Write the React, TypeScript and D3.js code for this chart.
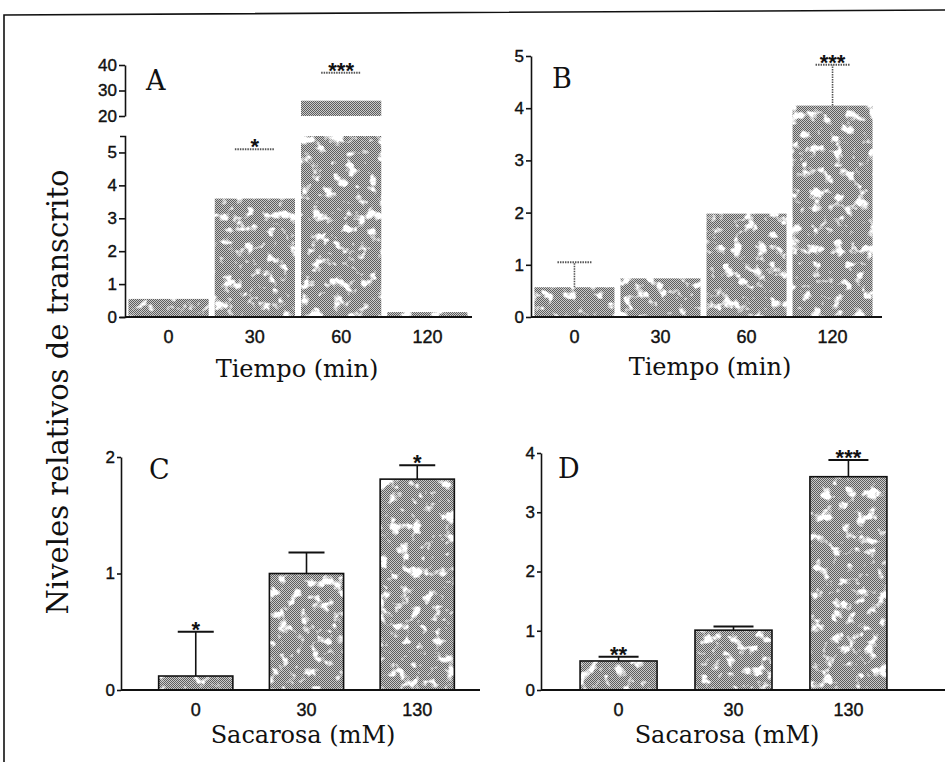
import { useEffect, useRef } from "react";
import * as d3 from "d3";

// categories
const tiempo = ["0", "30", "60", "120"];
const sacarosa = ["0", "30", "130"];

// panel A (broken axis: 0-5.5 and 20-40)
const valuesA = [0.55, 3.6, 26, 0.15];
const errA = [null, 5.1, 37, null];
const sigA = ["", "*", "***", ""];
const ticksA = [0, 1, 2, 3, 4, 5];
const ticksAUpper = [20, 30, 40];

// panel B
const valuesB = [0.57, 0.74, 1.98, 4.05];
const errB = [1.05, null, null, 4.83];
const sigB = ["", "", "", "***"];
const ticksB = [0, 1, 2, 3, 4, 5];

// panel C
const valuesC = [0.12, 1.0, 1.81];
const errC = [0.5, 1.18, 1.93];
const sigC = ["*", "", "*"];
const ticksC = [0, 1, 2];

// panel D
const valuesD = [0.49, 1.01, 3.6];
const errD = [0.56, 1.07, 3.88];
const sigD = ["**", "", "***"];
const ticksD = [0, 1, 2, 3, 4];

const SERIF = "'DejaVu Serif', serif";
const SANS = "'Liberation Sans', Arial, sans-serif";

const drawPanel = (svg, o) => {
  const g = svg.append("g");
  const x = d3
    .scaleBand()
    .domain(o.cats)
    .range([o.x0, o.x1])
    .paddingInner(o.padIn)
    .paddingOuter(o.padOut);

  const y = d3.scaleLinear().domain([0, o.max]).range([o.y0, o.yTop]);
  const yUp = o.upper
    ? d3.scaleLinear().domain(o.upper.domain).range(o.upper.range)
    : null;
  const yv = (v) => (yUp && v >= o.upper.domain[0] ? yUp(v) : y(Math.min(v, o.max)));

  const data = o.cats.map((c, i) => ({ c, v: o.values[i], e: o.errs[i], s: o.sigs[i] }));

  // bars (lower part)
  g.selectAll("rect.bar")
    .data(data)
    .join("rect")
    .attr("class", "bar")
    .attr("x", (d) => x(d.c))
    .attr("width", x.bandwidth())
    .attr("y", (d) => y(Math.min(d.v, o.max)))
    .attr("height", (d) => o.y0 - y(Math.min(d.v, o.max)))
    .attr("fill", "url(#halftone)")
    .attr("filter", "url(#mottle)");

  // bars (upper part of broken axis)
  if (yUp) {
    g.selectAll("rect.barUp")
      .data(data.filter((d) => d.v > o.upper.domain[0]))
      .join("rect")
      .attr("class", "barUp")
      .attr("x", (d) => x(d.c))
      .attr("width", x.bandwidth())
      .attr("y", (d) => yUp(d.v))
      .attr("height", (d) => yUp(o.upper.domain[0]) - yUp(d.v))
      .attr("fill", "url(#halftone)");
  }

  if (o.outline) {
    g.selectAll("rect.outline")
      .data(data)
      .join("rect")
      .attr("class", "outline")
      .attr("x", (d) => x(d.c))
      .attr("width", x.bandwidth())
      .attr("y", (d) => y(d.v))
      .attr("height", (d) => o.y0 - y(d.v))
      .attr("fill", "none")
      .attr("stroke", "#111")
      .attr("stroke-width", 1.6);
  }

  // error bars
  const errs = data.filter((d) => d.e != null);
  const errColor = o.errStyle === "solid" ? "#111" : "#555";
  const dash = o.errStyle === "solid" ? null : "1.5,1";
  if (o.errStyle !== "capOnly") {
    g.selectAll("line.ev")
      .data(errs)
      .join("line")
      .attr("class", "ev")
      .attr("x1", (d) => x(d.c) + x.bandwidth() / 2)
      .attr("x2", (d) => x(d.c) + x.bandwidth() / 2)
      .attr("y1", (d) => yv(d.v))
      .attr("y2", (d) => yv(d.e))
      .attr("stroke", errColor)
      .attr("stroke-width", 1.6)
      .attr("stroke-dasharray", dash);
  }
  g.selectAll("line.ec")
    .data(errs)
    .join("line")
    .attr("class", "ec")
    .attr("x1", (d) => x(d.c) + x.bandwidth() / 2 - o.capW / 2)
    .attr("x2", (d) => x(d.c) + x.bandwidth() / 2 + o.capW / 2)
    .attr("y1", (d) => yv(d.e))
    .attr("y2", (d) => yv(d.e))
    .attr("stroke", errColor)
    .attr("stroke-width", 2)
    .attr("stroke-dasharray", dash);

  // significance stars
  g.selectAll("text.sig")
    .data(data.filter((d) => d.s))
    .join("text")
    .attr("class", "sig")
    .attr("x", (d) => x(d.c) + x.bandwidth() / 2)
    .attr("y", (d) => yv(d.e != null ? d.e : d.v) + 5)
    .attr("text-anchor", "middle")
    .attr("font-family", SANS)
    .attr("font-weight", "bold")
    .attr("font-size", 22)
    .attr("fill", "#111")
    .text((d) => d.s);

  // y axis
  const styleAxis = (ax) => {
    ax.selectAll("path,line").attr("stroke", "#111").attr("stroke-width", 1.6);
    ax.selectAll("text")
      .attr("font-family", SANS)
      .attr("font-size", 17)
      .attr("fill", "#111")
      .attr("stroke", "#111")
      .attr("stroke-width", 0.4);
  };
  const yAxis = g
    .append("g")
    .attr("transform", `translate(${o.x0},0)`)
    .call(
      d3
        .axisLeft(y)
        .tickValues(o.ticks)
        .tickFormat(d3.format("d"))
        .tickSize(o.tickLen)
        .tickSizeOuter(o.upper ? 5 : 0)
        .tickPadding(2)
    );
  styleAxis(yAxis);
  if (yUp) {
    const yAxisUp = g
      .append("g")
      .attr("transform", `translate(${o.x0},0)`)
      .call(
        d3
          .axisLeft(yUp)
          .tickValues(o.upper.ticks)
          .tickFormat(d3.format("d"))
          .tickSize(o.tickLen)
          .tickSizeOuter(0)
          .tickPadding(2)
      );
    styleAxis(yAxisUp);
  }

  // x axis baseline
  g.append("line")
    .attr("x1", o.x0)
    .attr("x2", o.axisEnd)
    .attr("y1", o.y0)
    .attr("y2", o.y0)
    .attr("stroke", "#111")
    .attr("stroke-width", 2);

  g.selectAll("text.xt")
    .data(o.cats)
    .join("text")
    .attr("class", "xt")
    .attr("x", (d) => x(d) + x.bandwidth() / 2)
    .attr("y", o.y0 + 26)
    .attr("text-anchor", "middle")
    .attr("font-family", SANS)
    .attr("font-size", 18)
    .attr("fill", "#111")
    .attr("stroke", "#111")
    .attr("stroke-width", 0.4)
    .text((d) => d);

  g.append("text")
    .attr("x", o.titleX)
    .attr("y", o.y0 + o.titleDy)
    .attr("text-anchor", "middle")
    .attr("font-family", SERIF)
    .attr("font-size", 24)
    .attr("fill", "#111")
    .text(o.title);

  g.append("text")
    .attr("x", o.letterX)
    .attr("y", o.letterY)
    .attr("font-family", SERIF)
    .attr("font-size", 27)
    .attr("fill", "#111")
    .text(o.letter);
};

const App = () => {
  const ref = useRef(null);

  useEffect(() => {
    const svg = d3.select(ref.current).select("g.charts");
    svg.selectAll("*").remove();

    drawPanel(svg, {
      cats: tiempo, values: valuesA, errs: errA, sigs: sigA, ticks: ticksA,
      x0: 125, x1: 471, padIn: 0.07, padOut: 0.04, axisEnd: 472,
      y0: 317, yTop: 136, max: 5.5,
      upper: { domain: [20, 40], range: [116, 65], ticks: ticksAUpper },
      tickLen: 6, capW: 40, errStyle: "capOnly", outline: false,
      title: "Tiempo (min)", titleX: 297, titleDy: 60,
      letter: "A", letterX: 146, letterY: 90,
    });

    drawPanel(svg, {
      cats: tiempo, values: valuesB, errs: errB, sigs: sigB, ticks: ticksB,
      x0: 531, x1: 876, padIn: 0.07, padOut: 0.04, axisEnd: 882,
      y0: 317, yTop: 56, max: 5,
      tickLen: 5, capW: 34, errStyle: "dotted", outline: false,
      title: "Tiempo (min)", titleX: 710, titleDy: 58,
      letter: "B", letterX: 552, letterY: 88,
    });

    drawPanel(svg, {
      cats: sacarosa, values: valuesC, errs: errC, sigs: sigC, ticks: ticksC,
      x0: 121, x1: 492, padIn: 0.33, padOut: 0.34, axisEnd: 480,
      y0: 690, yTop: 457, max: 2,
      tickLen: 4, capW: 36, errStyle: "solid", outline: true,
      title: "Sacarosa (mM)", titleX: 303, titleDy: 53,
      letter: "C", letterX: 149, letterY: 479,
    });

    drawPanel(svg, {
      cats: sacarosa, values: valuesD, errs: errD, sigs: sigD, ticks: ticksD,
      x0: 541, x1: 926, padIn: 0.33, padOut: 0.34, axisEnd: 945,
      y0: 690, yTop: 453, max: 4,
      tickLen: 4, capW: 40, errStyle: "solid", outline: true,
      title: "Sacarosa (mM)", titleX: 727, titleDy: 53,
      letter: "D", letterX: 558, letterY: 478,
    });
  }, []);

  return (
    <svg
      ref={ref}
      width={945}
      height={762}
      style={{ position: "absolute", left: 0, top: 0, background: "#fff" }}
    >
      <defs>
        <pattern id="halftone" width="2" height="2" patternUnits="userSpaceOnUse">
          <rect width="2" height="2" fill="#cacaca" />
          <rect width="1" height="1" fill="#5e5e5e" />
          <rect x="1" y="1" width="1" height="1" fill="#5e5e5e" />
        </pattern>
        <filter id="mottle" x="0" y="0" width="1" height="1" colorInterpolationFilters="sRGB">
          <feTurbulence type="fractalNoise" baseFrequency="0.09" numOctaves="3" seed="7" result="noise" />
          <feColorMatrix
            in="noise"
            type="matrix"
            values="0 0 0 0 1  0 0 0 0 1  0 0 0 0 1  -6 0 0 0 2.75"
            result="spots"
          />
          <feComposite in="spots" in2="SourceGraphic" operator="atop" />
        </filter>
      </defs>
      <rect width={945} height={762} fill="#fff" />
      <path d="M4,762 L4,15 L945,10" fill="none" stroke="#111" strokeWidth={1.6} />
      <text
        transform="translate(68,392) rotate(-90)"
        textAnchor="middle"
        fontFamily={SERIF}
        fontSize={29}
        fill="#111"
      >
        Niveles relativos de transcrito
      </text>
      <g className="charts" />
    </svg>
  );
};

export default App;
